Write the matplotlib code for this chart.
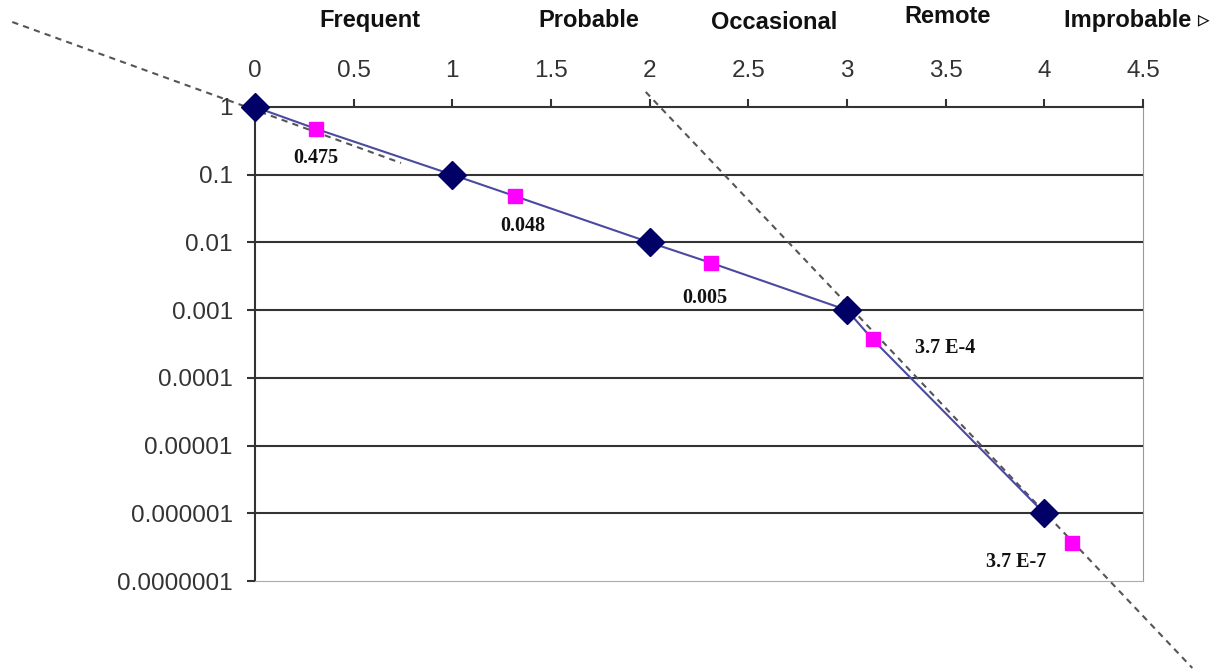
import matplotlib
matplotlib.use("Agg")
import matplotlib.pyplot as plt

# datos del grafico
nivel_x = [0, 1, 2, 3, 4]
nivel_p = [1, 0.1, 0.01, 0.001, 0.000001]

medio_x = [0.31, 1.32, 2.31, 3.13, 4.14]
medio_p = [0.475, 0.048, 0.005, 0.00037, 0.00000037]
medio_txt = ["0.475", "0.048", "0.005", "3.7 E-4", "3.7 E-7"]

# linea azul: une todos los puntos hasta x=4
linea_x = [0, 0.31, 1, 1.32, 2, 2.31, 3, 3.13, 4]
linea_p = [1, 0.475, 0.1, 0.048, 0.01, 0.005, 0.001, 0.00037, 0.000001]

# rectas punteadas (tendencias)
tend_a_x = [-1.23, 0.74]
tend_a_p = [18.0, 0.149]
tend_b_x = [1.98, 4.75]
tend_b_p = [1.67, 5.2e-9]

categorias = ["Frequent", "Probable", "Occasional", "Remote", "Improbable \u25b9"]
cat_x = [0.58, 1.69, 2.63, 3.51, 4.47]
cat_y = [1.183, 1.183, 1.178, 1.19, 1.183]

xticks = [0, 0.5, 1, 1.5, 2, 2.5, 3, 3.5, 4, 4.5]
xtick_txt = ["0", "0.5", "1", "1.5", "2", "2.5", "3", "3.5", "4", "4.5"]
yticks = [1, 0.1, 0.01, 0.001, 0.0001, 0.00001, 0.000001, 0.0000001]
ytick_txt = ["1", "0.1", "0.01", "0.001", "0.0001", "0.00001", "0.000001", "0.0000001"]

fig = plt.figure(figsize=(12.29, 6.70), dpi=100)
ax = fig.add_axes([0.2075, 0.1328, 0.7225, 0.7075])
ax.set_yscale("log")
ax.set_xlim(0, 4.5)
ax.set_ylim(1e-7, 1)

# rejilla horizontal en cada decada
for v in yticks[1:-1]:
    ax.axhline(v, color="#333333", lw=1.5, zorder=1)

ax.plot(tend_a_x, tend_a_p, ls=(0, (3, 2.5)), color="#555555", lw=1.5, clip_on=False, zorder=2)
ax.plot(tend_b_x, tend_b_p, ls=(0, (3, 2.5)), color="#555555", lw=1.5, clip_on=False, zorder=2)

ax.plot(linea_x, linea_p, color="#4a4aa0", lw=1.5, zorder=3)
ax.plot(nivel_x, nivel_p, ls="none", marker="D", ms=14, color="#000066", clip_on=False, zorder=5)
ax.plot(medio_x, medio_p, ls="none", marker="s", ms=10.5, color="#ff00ff", clip_on=False, zorder=4)

# etiquetas de los puntos rosados
desplaz = [(0, -21), (5, -21.5), (-4, -25), (52, -6), (-40, -14)]
for x, p, t, d in zip(medio_x, medio_p, medio_txt, desplaz):
    ax.annotate(t, (x, p), xytext=d, textcoords="offset points", ha="center", va="center",
                fontsize=14.5, fontweight="bold", family="Liberation Serif", color="#111111")

# ejes: x arriba
ax.xaxis.tick_top()
ax.set_xticks(xticks)
ax.set_xticklabels(xtick_txt)
ax.set_yticks(yticks)
ax.set_yticklabels(ytick_txt)
ax.minorticks_off()
ax.tick_params(axis="x", direction="out", length=6, width=1.5, pad=12, labelsize=17.5,
               labelcolor="#333333", color="#333333")
ax.tick_params(axis="y", direction="out", length=6, width=1.5, pad=10, labelsize=17.5,
               labelcolor="#333333", color="#333333")
for lab in ax.get_xticklabels() + ax.get_yticklabels():
    lab.set_family("Liberation Sans")

ax.spines["top"].set_color("#333333")
ax.spines["top"].set_linewidth(1.5)
ax.spines["left"].set_color("#333333")
ax.spines["left"].set_linewidth(1.5)
ax.spines["right"].set_color("#999999")
ax.spines["bottom"].set_color("#aaaaaa")

# categorias arriba
for c, cx, cy in zip(categorias, cat_x, cat_y):
    ax.text(cx, cy, c, transform=ax.get_xaxis_transform(), ha="center", va="center",
            fontsize=17, fontweight="bold", family=["Liberation Sans", "DejaVu Sans"],
            color="#111111")

fig.savefig("out.png", dpi=100)
